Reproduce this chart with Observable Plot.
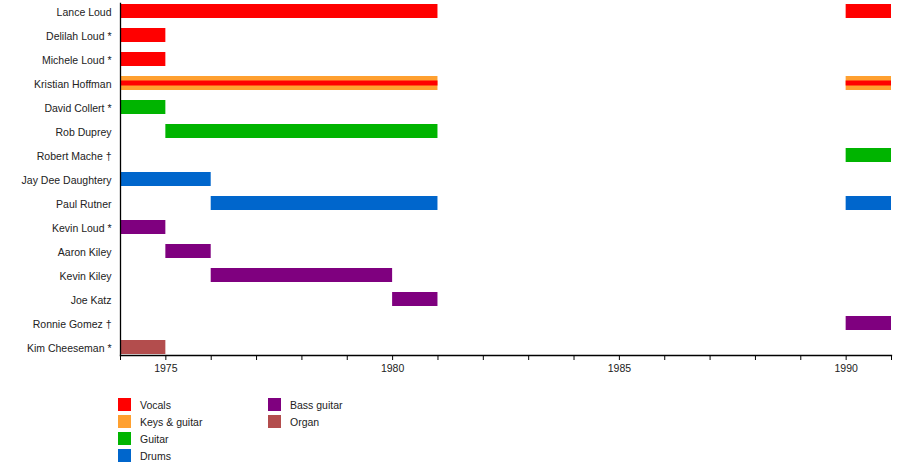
<!DOCTYPE html>
<html>
<head>
<meta charset="utf-8">
<script src="https://cdn.jsdelivr.net/npm/d3@7"></script>
<script src="https://cdn.jsdelivr.net/npm/@observablehq/plot@0.6"></script>
<style>
  body { margin: 0; background: #fff; font-family: "Liberation Sans", Arial, sans-serif; }
  #chart { position: relative; width: 900px; height: 464px; }
  #legend { position: absolute; left: 118px; top: 396px; display: grid; grid-auto-flow: column;
            grid-template-rows: repeat(4, 17px); grid-template-columns: 150px 150px; font-size: 10.5px; color: #222; }
  .item { display: flex; align-items: center; height: 17px; }
  .sw { width: 13px; height: 13px; margin-right: 9px; flex: none; }
</style>
</head>
<body>
<div id="chart"><div id="legend"></div></div>
<script>
const members = ["Lance Loud", "Delilah Loud *", "Michele Loud *", "Kristian Hoffman", "David Collert *",
  "Rob Duprey", "Robert Mache †", "Jay Dee Daughtery", "Paul Rutner", "Kevin Loud *", "Aaron Kiley",
  "Kevin Kiley", "Joe Katz", "Ronnie Gomez †", "Kim Cheeseman *"];

const roles = ["Vocals", "Keys & guitar", "Guitar", "Drums", "Bass guitar", "Organ"];
const roleColors = ["#ff0000", "#ffa030", "#00b400", "#0066cc", "#7f007f", "#b34d4d"];

// main membership periods
const spanMember = ["Lance Loud", "Lance Loud", "Delilah Loud *", "Michele Loud *", "Kristian Hoffman", "Kristian Hoffman",
  "David Collert *", "Rob Duprey", "Robert Mache †", "Jay Dee Daughtery", "Paul Rutner", "Paul Rutner",
  "Kevin Loud *", "Aaron Kiley", "Kevin Kiley", "Joe Katz", "Ronnie Gomez †", "Kim Cheeseman *"];
const spanStart = [1974, 1990, 1974, 1974, 1974, 1990, 1974, 1975, 1990, 1974, 1976, 1990, 1974, 1975, 1976, 1980, 1990, 1974];
const spanEnd   = [1981, 1991, 1975, 1975, 1981, 1991, 1975, 1981, 1991, 1976, 1981, 1991, 1975, 1976, 1980, 1981, 1991, 1975];
const spanRole  = ["Vocals", "Vocals", "Vocals", "Vocals", "Keys & guitar", "Keys & guitar", "Guitar", "Guitar", "Guitar",
  "Drums", "Drums", "Drums", "Bass guitar", "Bass guitar", "Bass guitar", "Bass guitar", "Bass guitar", "Organ"];

// secondary role stripes
const stripeMember = ["Kristian Hoffman", "Kristian Hoffman"];
const stripeStart = [1974, 1990];
const stripeEnd = [1981, 1991];
const stripeRole = ["Vocals", "Vocals"];

const yearTicks = d3.range(1974, 1992);

const spans = spanMember.map((m, i) => ({member: m, start: spanStart[i], end: spanEnd[i], role: spanRole[i]}));
const stripes = stripeMember.map((m, i) => ({member: m, start: stripeStart[i], end: stripeEnd[i], role: stripeRole[i]}));

const chart = Plot.plot({
  width: 900,
  height: 385,
  marginLeft: 120,
  marginRight: 9,
  marginTop: 3,
  marginBottom: 30,
  style: {fontFamily: '"Liberation Sans", Arial, sans-serif', fontSize: "10.5px", color: "#222", background: "#fff"},
  x: {domain: [1974, 1991]},
  y: {domain: members, range: [4, 355], paddingInner: 0.418, paddingOuter: 0, align: 0},
  color: {domain: roles, range: roleColors},
  marks: [
    Plot.barX(spans, {x1: "start", x2: "end", y: "member", fill: "role"}),
    Plot.barX(stripes, {x1: "start", x2: "end", y: "member", fill: "role", insetTop: 4.5, insetBottom: 4.5}),
    Plot.frame({anchor: "left", stroke: "#000", strokeWidth: 1.3}),
    Plot.frame({anchor: "bottom", stroke: "#000", strokeWidth: 1.3}),
    Plot.axisY({tickSize: 0, tickPadding: 9, fontSize: 10.5, label: null, dy: 1}),
    Plot.axisX({ticks: yearTicks, tickSize: 5, tickPadding: 4, stroke: "#000",
      tickFormat: d => d % 5 === 0 ? String(d) : "", fontSize: 10.5, label: null})
  ]
});
document.getElementById("chart").prepend(chart);

const legend = document.getElementById("legend");
roles.forEach((r, i) => {
  const item = document.createElement("div");
  item.className = "item";
  const sw = document.createElement("span");
  sw.className = "sw";
  sw.style.background = roleColors[i];
  const t = document.createElement("span");
  t.textContent = r;
  item.append(sw, t);
  legend.append(item);
});
</script>
</body>
</html>
